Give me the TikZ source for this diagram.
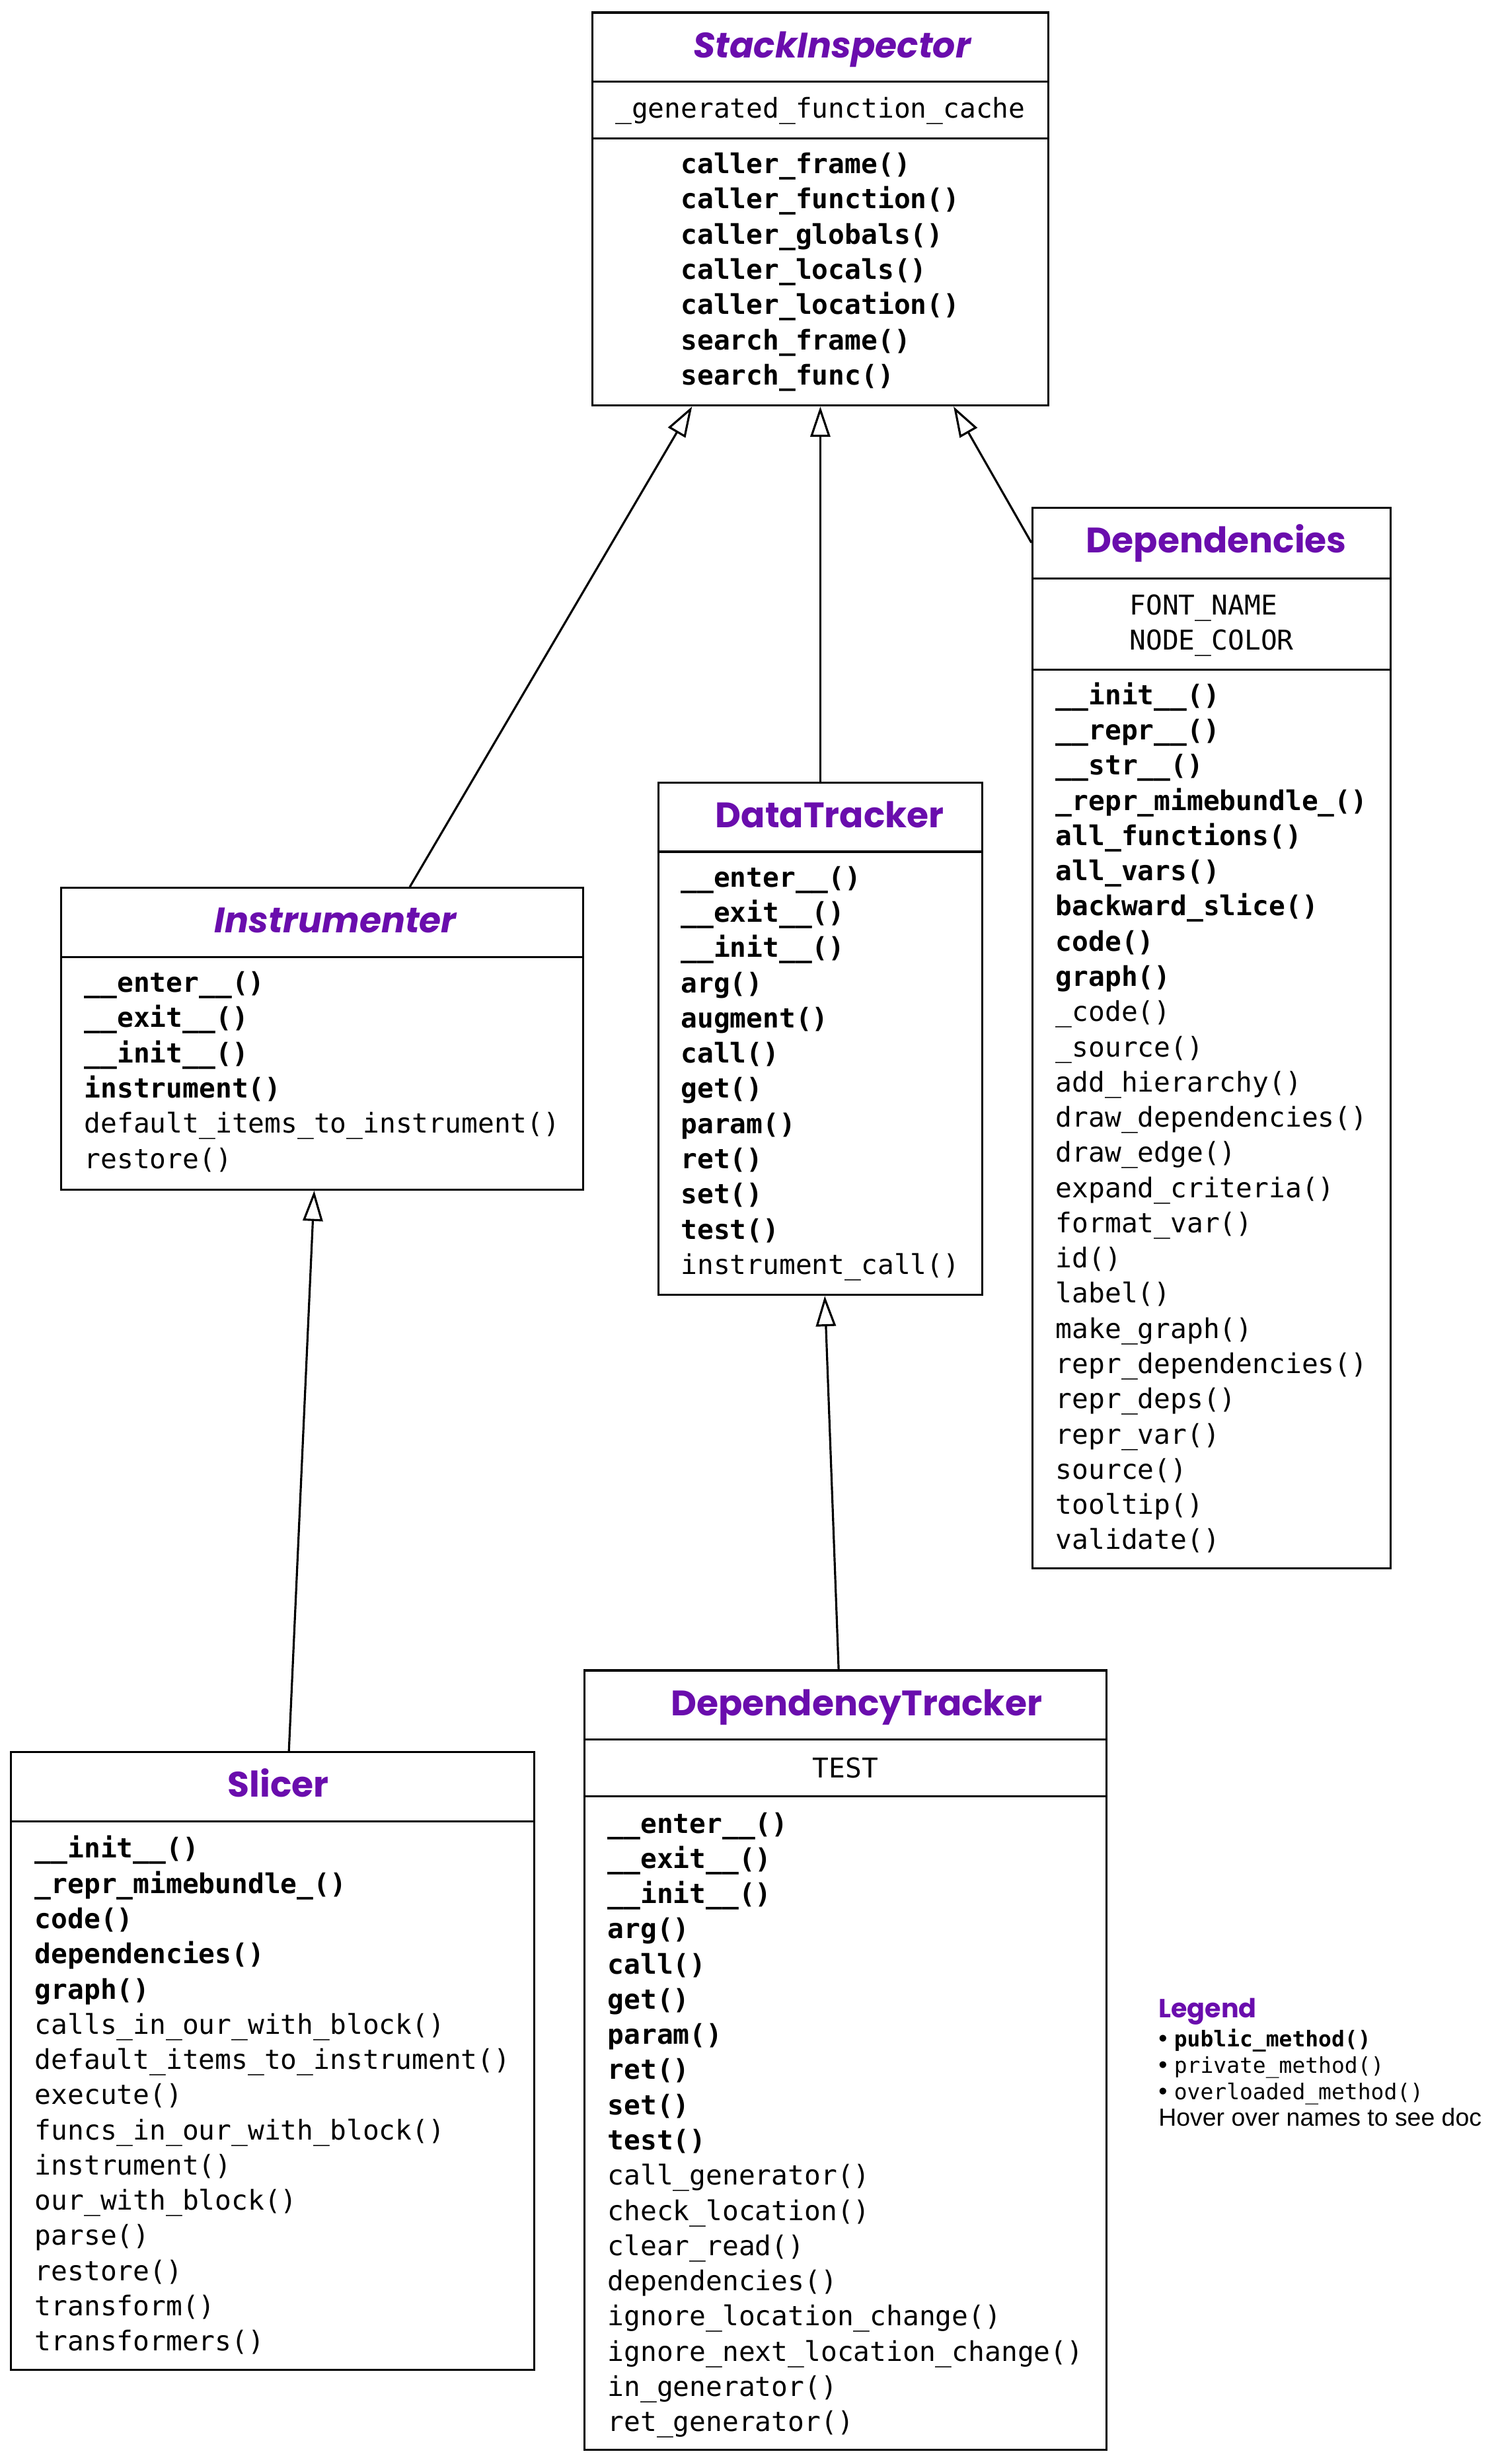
\documentclass[tikz,border=0pt]{standalone}
\usepackage{fontspec}
\setmainfont{Liberation Sans}
\newfontfamily\codefont{DejaVu Sans Mono}
\newfontfamily\headfont{Poppins}
\usetikzlibrary{arrows.meta}

\definecolor{classpurple}{RGB}{106,13,173}
\newcommand{\pubm}[1]{\textbf{#1()}}
\newcommand{\privm}[1]{#1()}

\tikzset{
  classbox/.style={draw, line width=1pt, rectangle, inner sep=0pt},
  classname/.style={font=\headfont\bfseries\fontsize{16.9}{20}\selectfont, text=classpurple, anchor=base, inner sep=0pt},
  members/.style={font=\codefont\fontsize{13}{16.8}\selectfont, align=left, anchor=north, inner sep=0pt},
  divider/.style={line width=1pt},
  inherits/.style={line width=1pt, -{Triangle[open, length=14.5pt, width=9.5pt, line width=1pt]}},
}

\begin{document}
\begin{tikzpicture}[x=0.75pt, y=-0.75pt]
  \path[use as bounding box, fill=white] (0,0) rectangle (953,1568);

  %% StackInspector
  \node[classbox, minimum width=217.5pt, minimum height=187.5pt] (stack) at (522,133) {};
  \node[classname] (stack-name) at (529.5,36.6) {\itshape StackInspector};
  \draw[divider] (stack.west |- 0,52) -- (stack.east |- 0,52);
  \draw[divider] (stack.west |- 0,88) -- (stack.east |- 0,88);
  \node[members] (stack-attrs) at (522,61.8) {\_generated\_function\_cache};
  \node[members] (stack-meths) at (522,97) {\pubm{caller\_frame}\\ \pubm{caller\_function}\\
    \pubm{caller\_globals}\\ \pubm{caller\_locals}\\ \pubm{caller\_location}\\
    \pubm{search\_frame}\\ \pubm{search\_func}};

  %% Dependencies
  \node[classbox, minimum width=171pt, minimum height=506.25pt] (deps) at (771,660.5) {};
  \node[classname] (deps-name) at (774,351.6) {Dependencies};
  \draw[divider] (deps.west |- 0,368) -- (deps.east |- 0,368);
  \draw[divider] (deps.west |- 0,426) -- (deps.east |- 0,426);
  \node[members] (deps-attrs) at (771,378) {FONT\_NAME\\ NODE\_COLOR};
  \node[members] (deps-meths) at (771,434) {\pubm{\_\_init\_\_}\\ \pubm{\_\_repr\_\_}\\ \pubm{\_\_str\_\_}\\
    \pubm{\_repr\_mimebundle\_}\\ \pubm{all\_functions}\\ \pubm{all\_vars}\\ \pubm{backward\_slice}\\
    \pubm{code}\\ \pubm{graph}\\ \privm{\_code}\\ \privm{\_source}\\ \privm{add\_hierarchy}\\
    \privm{draw\_dependencies}\\ \privm{draw\_edge}\\ \privm{expand\_criteria}\\ \privm{format\_var}\\
    \privm{id}\\ \privm{label}\\ \privm{make\_graph}\\ \privm{repr\_dependencies}\\ \privm{repr\_deps}\\
    \privm{repr\_var}\\ \privm{source}\\ \privm{tooltip}\\ \privm{validate}};

  %% DataTracker
  \node[classbox, minimum width=154.5pt, minimum height=244.5pt] (data) at (522,661) {};
  \node[classname] (data-name) at (528,526.6) {DataTracker};
  \draw[divider] (data.west |- 0,542) -- (data.east |- 0,542);
  \node[members] (data-meths) at (522,551) {\pubm{\_\_enter\_\_}\\ \pubm{\_\_exit\_\_}\\ \pubm{\_\_init\_\_}\\
    \pubm{arg}\\ \pubm{augment}\\ \pubm{call}\\ \pubm{get}\\ \pubm{param}\\ \pubm{ret}\\ \pubm{set}\\
    \pubm{test}\\ \privm{instrument\_call}};

  %% Instrumenter
  \node[classbox, minimum width=249pt, minimum height=144pt] (inst) at (205,661) {};
  \node[classname] (inst-name) at (213.5,593.6) {\itshape Instrumenter};
  \draw[divider] (inst.west |- 0,609) -- (inst.east |- 0,609);
  \node[members] (inst-meths) at (205,618) {\pubm{\_\_enter\_\_}\\ \pubm{\_\_exit\_\_}\\ \pubm{\_\_init\_\_}\\
    \pubm{instrument}\\ \privm{default\_items\_to\_instrument}\\ \privm{restore}};

  %% Slicer
  \node[classbox, minimum width=249.75pt, minimum height=294.75pt] (slicer) at (173.5,1311.5) {};
  \node[classname] (slicer-name) at (177,1143.6) {Slicer};
  \draw[divider] (slicer.west |- 0,1159) -- (slicer.east |- 0,1159);
  \node[members] (slicer-meths) at (173.5,1168) {\pubm{\_\_init\_\_}\\ \pubm{\_repr\_mimebundle\_}\\
    \pubm{code}\\ \pubm{dependencies}\\ \pubm{graph}\\ \privm{calls\_in\_our\_with\_block}\\
    \privm{default\_items\_to\_instrument}\\ \privm{execute}\\ \privm{funcs\_in\_our\_with\_block}\\
    \privm{instrument}\\ \privm{our\_with\_block}\\ \privm{parse}\\ \privm{restore}\\
    \privm{transform}\\ \privm{transformers}};

  %% DependencyTracker
  \node[classbox, minimum width=249pt, minimum height=372pt] (deptr) at (538,1311) {};
  \node[classname] (deptr-name) at (545,1091.6) {DependencyTracker};
  \draw[divider] (deptr.west |- 0,1107) -- (deptr.east |- 0,1107);
  \draw[divider] (deptr.west |- 0,1143) -- (deptr.east |- 0,1143);
  \node[members] (deptr-attrs) at (538,1118) {TEST};
  \node[members] (deptr-meths) at (538,1153) {\pubm{\_\_enter\_\_}\\ \pubm{\_\_exit\_\_}\\ \pubm{\_\_init\_\_}\\
    \pubm{arg}\\ \pubm{call}\\ \pubm{get}\\ \pubm{param}\\ \pubm{ret}\\ \pubm{set}\\ \pubm{test}\\
    \privm{call\_generator}\\ \privm{check\_location}\\ \privm{clear\_read}\\ \privm{dependencies}\\
    \privm{ignore\_location\_change}\\ \privm{ignore\_next\_location\_change}\\
    \privm{in\_generator}\\ \privm{ret\_generator}};

  %% inheritance
  \draw[inherits] (inst.60) -- (stack.237);
  \draw[inherits] (data.north) -- (stack.south);
  \draw[inherits] (deps.110.3) -- (stack.304);
  \draw[inherits] (slicer.87.2) -- (inst.267.3);
  \draw[inherits] (deptr.91.4) -- (data.271.5);

  %% legend
  \node[anchor=base west, inner sep=0pt, text=classpurple, font=\headfont\bfseries\fontsize{12.5}{14}\selectfont] (legend) at (737,1284) {Legend};
  \node[anchor=north west, inner sep=0pt, align=left, font=\fontsize{11.8}{12.6}\selectfont] (legend-items) at (737,1290.9)
    {\textbullet\ {\codefont\fontsize{10.4}{12.6}\selectfont\textbf{public\_method()}}\\
     \textbullet\ {\codefont\fontsize{10.4}{12.6}\selectfont private\_method()}\\
     \textbullet\ {\codefont\fontsize{10.4}{12.6}\selectfont overloaded\_method()}\\
     Hover over names to see doc};
\end{tikzpicture}
\end{document}
